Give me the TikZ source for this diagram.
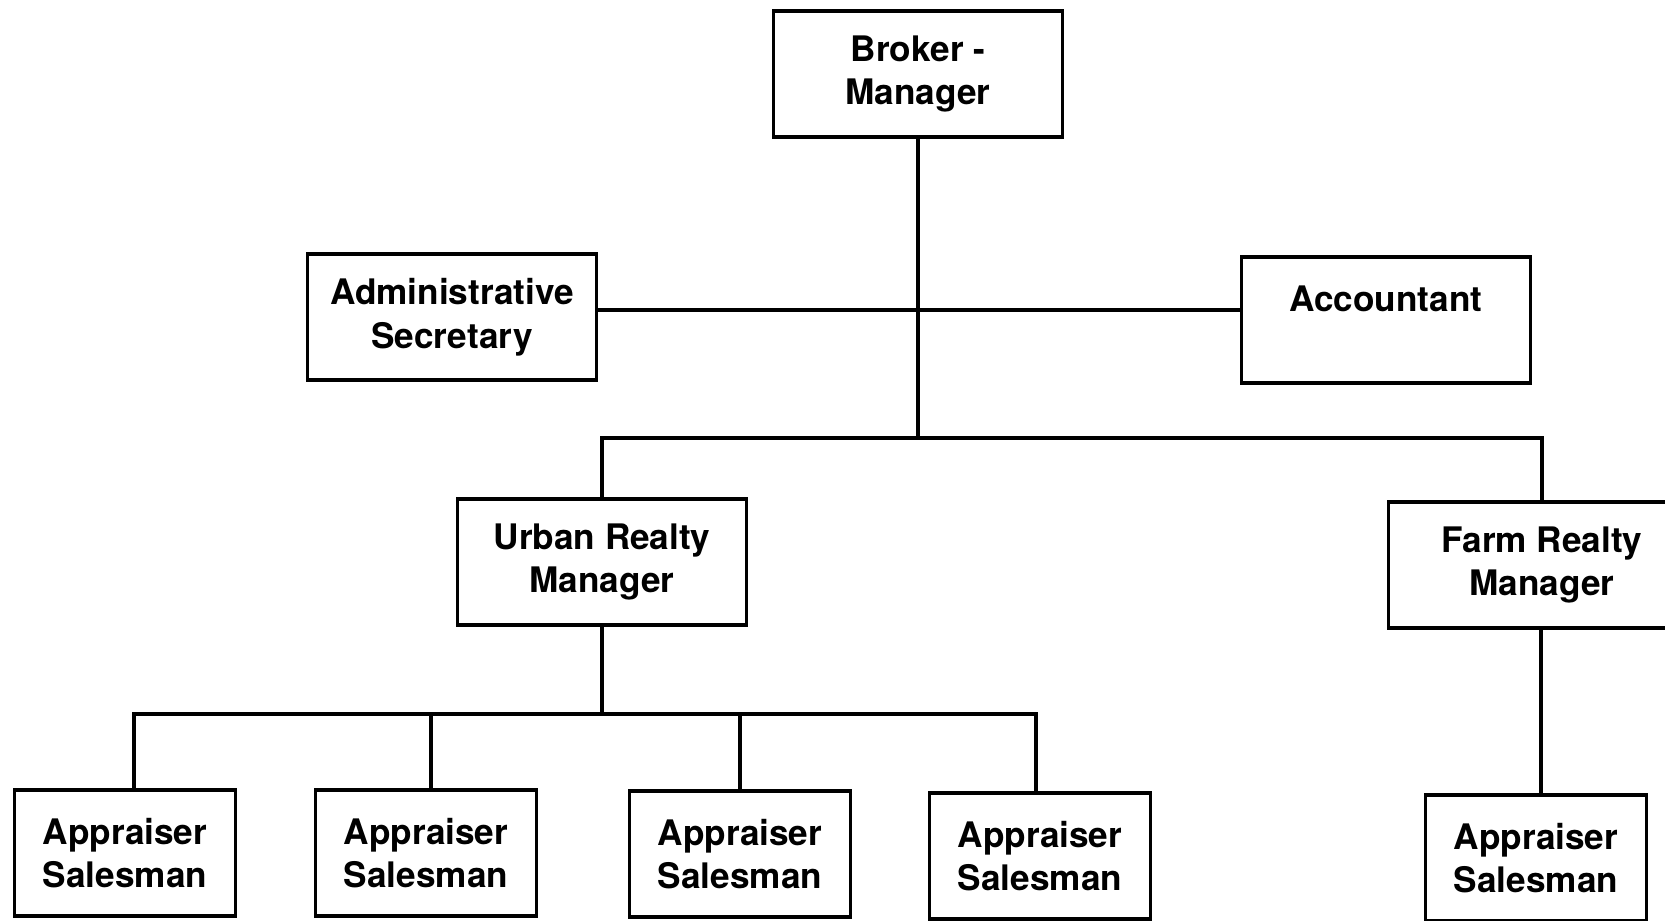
\documentclass[tikz,border=0pt]{standalone}
\usepackage{fontspec}
\setmainfont{TeX Gyre Heros}
\usepackage{tikz}
\usetikzlibrary{positioning}

\begin{document}
\begin{tikzpicture}[
		x=0.01cm, y=-0.01cm,
		line width=0.9pt,
		box/.style={draw, align=center, inner sep=0pt,
			font=\fontsize{10}{12.4}\selectfont\bfseries,
			minimum width=2.89cm, minimum height=1.26cm},
		salesbox/.style={box, minimum width=2.21cm}
	]
		\useasboundingbox (0,0) rectangle (1665,920);

		% top and staff
		\node[box] (broker) at (918,74) {Broker -\\Manager};
		\node[box] (secretary) at (452,317) {Administrative\\Secretary};
		\node[box] (accountant) at (1386,320) {Accountant\\\mbox{}};
		\coordinate (staffHub) at (918,310);
		\coordinate (branchHub) at (918,438);

		% managers
		\node[box] (urban) at (602,562) {Urban Realty\\Manager};
		\node[box, minimum width=3.06cm] (farm) at (1542,565) {Farm Realty\\Manager};

		% salesmen
		\node[salesbox] (urbanA) at (125,853) {Appraiser\\Salesman};
		\node[salesbox] (urbanB) at (426,853) {Appraiser\\Salesman};
		\node[salesbox] (urbanC) at (740,854) {Appraiser\\Salesman};
		\node[salesbox] (urbanD) at (1040,856) {Appraiser\\Salesman};
		\node[salesbox] (farmA) at (1536,858) {Appraiser\\Salesman};
		\coordinate (teamHub) at (602,714);

		% lines
		\draw (broker.south) -- (branchHub);
		\draw (secretary.east |- staffHub) -- (accountant.west |- staffHub);
		\draw (urban.north) |- (branchHub) -| (farm.north);
		\draw (urban.south) -- (teamHub);
		\draw (urbanA.north -| 134,0) |- (teamHub) -| (urbanD.north -| 1036,0);
		\draw (urbanB.north -| 431,0) -- (teamHub -| 431,0);
		\draw (urbanC.north) -- (teamHub -| urbanC.north);
		\draw (farm.south -| 1541,0) -- (farmA.north -| 1541,0);
	\end{tikzpicture}
\end{document}
